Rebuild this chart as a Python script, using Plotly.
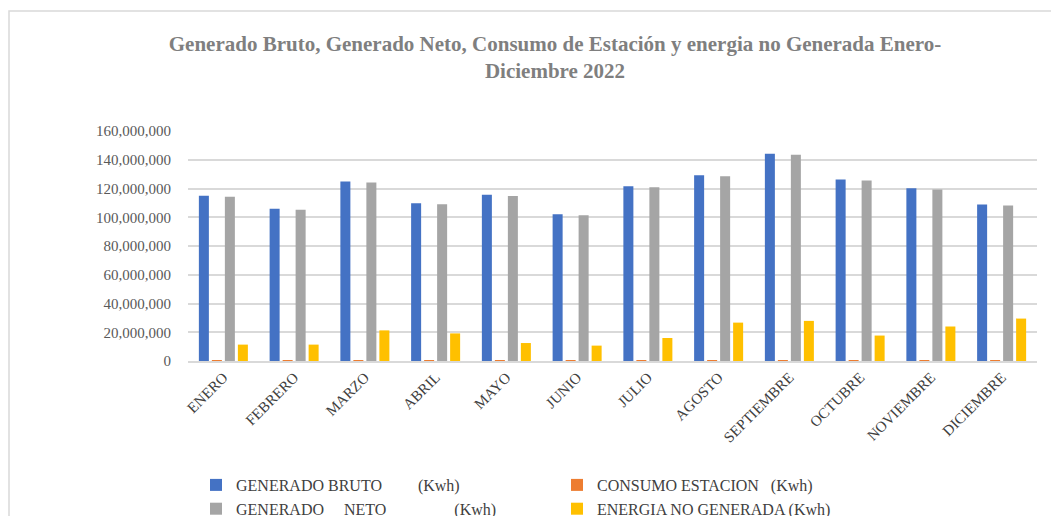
import plotly.graph_objects as go

meses = ["ENERO", "FEBRERO", "MARZO", "ABRIL", "MAYO", "JUNIO", "JULIO",
         "AGOSTO", "SEPTIEMBRE", "OCTUBRE", "NOVIEMBRE", "DICIEMBRE"]

generado_bruto = [115000000, 106000000, 124800000, 109700000, 115600000, 102100000,
                  121600000, 129300000, 144200000, 126300000, 120200000, 108800000]
consumo_estacion = [100000, 100000, 200000, 200000, 100000, 180000,
                    180000, 180000, 180000, 180000, 180000, 100000]
generado_neto = [114300000, 105300000, 124100000, 109000000, 114800000, 101400000,
                 120900000, 128600000, 143500000, 125600000, 119300000, 108100000]
energia_no_generada = [11400000, 11400000, 21300000, 19200000, 12500000, 10700000,
                       16000000, 26700000, 27900000, 17700000, 24000000, 29500000]

NB = "\u00a0"
names = [
    "GENERADO BRUTO" + NB * 9 + "(Kwh)",
    "CONSUMO ESTACION" + NB * 3 + "(Kwh)",
    "GENERADO" + NB * 5 + "NETO" + NB * 17 + "(Kwh)",
    "ENERGIA NO GENERADA (Kwh)",
]
colors = ["#4472C4", "#ED7D31", "#A5A5A5", "#FFC000"]
series = [generado_bruto, consumo_estacion, generado_neto, energia_no_generada]

FONT = "Liberation Serif, Times New Roman, serif"
W, H = 1051, 516
ML, MR, MT, MB = 188, 14, 131, 155

fig = go.Figure()
for n, c, s in zip(names, colors, series):
    fig.add_trace(go.Bar(x=meses, y=s, name=n, marker=dict(color=c, line=dict(width=0))))

pw = W - ML - MR
ph = H - MT - MB

def px_x(p):
    return (p - ML) / pw

def px_y(p):
    return (H - MB - p) / ph

fig.add_shape(type="rect", xref="paper", yref="paper",
              x0=px_x(9), x1=px_x(1070), y0=px_y(540), y1=px_y(11),
              line=dict(color="#d9d9d9", width=1.5), fillcolor="rgba(0,0,0,0)", layer="below")

fig.update_layout(
    width=W, height=H,
    margin=dict(l=ML, r=MR, t=MT, b=MB),
    paper_bgcolor="white", plot_bgcolor="white",
    barmode="group", bargap=0.265, bargroupgap=0.23,
    title=dict(
        text="Generado Bruto, Generado Neto, Consumo de Estación y energia no Generada Enero-<br>Diciembre 2022",
        x=555 / W, xanchor="center", y=1 - 51 / H, yanchor="top",
        font=dict(family=FONT, size=21, color="#7f7f7f", weight="bold"),
    ),
    font=dict(family=FONT, color="#404040"),
    xaxis=dict(tickangle=-45, tickfont=dict(family=FONT, size=15, color="#404040"),
               showline=True, linecolor="#d9d9d9", linewidth=1.5, ticks="", showgrid=False),
    yaxis=dict(range=[0, 160000000], dtick=20000000, tickformat=",d",
               tickfont=dict(family=FONT, size=15, color="#595959"),
               showgrid=True, gridcolor="#d9d9d9", gridwidth=1.5, zeroline=False,
               showline=False, ticks="", ticklabelstandoff=16),
    legend=dict(orientation="h", xref="container", yref="container",
                x=196 / W, xanchor="left", y=1 - 468 / H, yanchor="top",
                entrywidth=316, entrywidthmode="pixels",
                font=dict(family=FONT, size=16, color="#404040"),
                itemwidth=30, traceorder="normal"),
    showlegend=True,
)

fig.write_html("out.html", config={"displayModeBar": False},
               post_script="document.body.style.margin='0';")
